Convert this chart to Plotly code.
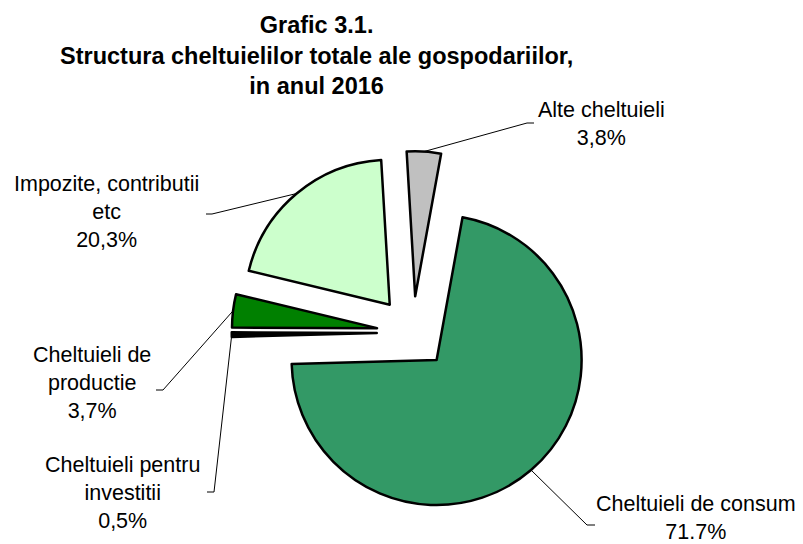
import math
import plotly.graph_objects as go

# ---- data ----
categories = ["Cheltuieli de consum", "Cheltuieli pentru investitii", "Cheltuieli de productie",
              "Impozite, contributii etc", "Alte cheltuieli"]
values = [71.7, 0.5, 3.7, 20.3, 3.8]
label_names = ["Cheltuieli de consum", "Cheltuieli pentru<br>investitii", "Cheltuieli de<br>productie",
               "Impozite, contributii<br>etc", "Alte cheltuieli"]
pct_labels = ["71.7%", "0,5%", "3,7%", "20,3%", "3,8%"]
colors = ["#339966", "#000000", "#008000", "#CCFFCC", "#C0C0C0"]

title_lines = ["Grafic 3.1.", "Structura cheltuielilor totale ale gospodariilor,", "in anul 2016"]

# ---- layout constants (pixels) ----
W, H = 803, 544
CX, CY = 413.0, 332.5      # pie centre
R = 145.0                  # pie radius
PULL = 0.25
ROT = 10.3                 # first slice start angle (clockwise from 12 o'clock)
FONT = "Liberation Sans, Arial, sans-serif"
LABEL_SIZE = 21.5

# label placement: (x centre, y centre, elbow x, elbow y, end x)
label_pos = [
    (696, 518, 587, 525, 595),
    (122, 493, 214, 492, 207),
    (92, 383, 163, 390, 156),
    (106, 212, 212, 214, 206),
    (601, 124, 527, 123, 534),
]


def px(x):
    return x / W


def py(y):
    return 1 - y / H


half = R * (1 + PULL)
fig = go.Figure(go.Pie(
    labels=categories,
    values=values,
    sort=False,
    direction="clockwise",
    rotation=ROT,
    pull=[PULL] * len(values),
    marker=dict(colors=colors, line=dict(color="#000000", width=2.5)),
    textinfo="none",
    hoverinfo="label+percent",
    showlegend=False,
    domain=dict(x=[px(CX - half), px(CX + half)], y=[py(CY + half), py(CY - half)]),
))

total = sum(values)
annotations = []
shapes = []
cum = 0.0
for i, v in enumerate(values):
    mid = math.radians(ROT + 360.0 * (cum + v / 2.0) / total)
    cum += v
    ax = CX + (1 + PULL) * R * math.sin(mid)
    ay = CY - (1 + PULL) * R * math.cos(mid)
    lx, ly, ex, ey, endx = label_pos[i]
    shapes.append(dict(
        type="path", xref="paper", yref="paper",
        path=f"M {px(ax)},{py(ay)} L {px(ex)},{py(ey)} L {px(endx)},{py(ey)}",
        line=dict(color="#000000", width=1),
    ))
    annotations.append(dict(
        x=px(lx), y=py(ly), xref="paper", yref="paper",
        xanchor="center", yanchor="middle", align="center",
        text=f"{label_names[i]}<br>{pct_labels[i]}",
        showarrow=False,
        font=dict(family=FONT, size=LABEL_SIZE, color="#000000"),
    ))

annotations.append(dict(
    x=px(316), y=py(56), xref="paper", yref="paper",
    xanchor="center", yanchor="middle", align="center",
    text="<br>".join(f"<b>{t}</b>" for t in title_lines),
    showarrow=False,
    font=dict(family=FONT, size=23.5, color="#000000"),
))

fig.update_layout(
    width=W, height=H,
    margin=dict(l=0, r=0, t=0, b=0),
    paper_bgcolor="#FFFFFF",
    plot_bgcolor="#FFFFFF",
    annotations=annotations,
    shapes=shapes,
    font=dict(family=FONT),
)

fig.write_html("out.html", config={"displayModeBar": False},
               post_script="document.body.style.margin='0';")
